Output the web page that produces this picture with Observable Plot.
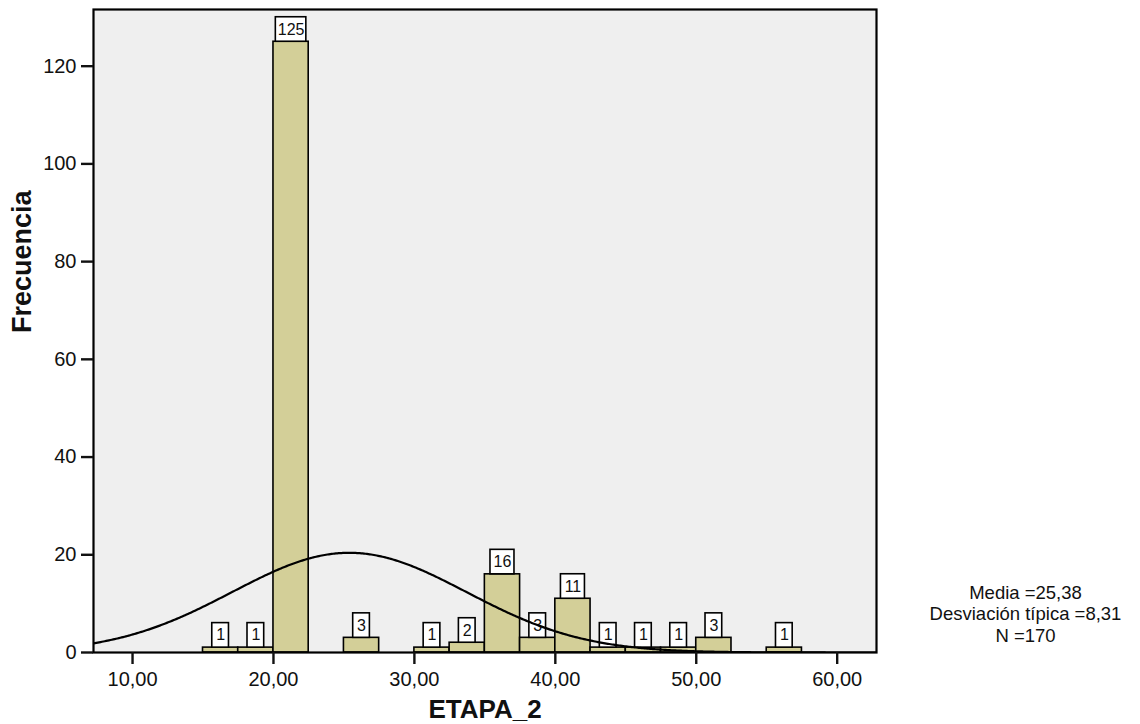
<!DOCTYPE html>
<html>
<head>
<meta charset="utf-8">
<script src="https://cdn.jsdelivr.net/npm/d3@7"></script>
<script src="https://cdn.jsdelivr.net/npm/@observablehq/plot@0.6"></script>
<style>
  html, body { margin: 0; padding: 0; background: #ffffff; }
  #chart svg { display: block; }
</style>
</head>
<body>
<div id="chart"></div>
<script>
// Histogram of ETAPA_2: lower edge of each 2.5-wide bin and its frequency
const binStart = [15, 17.5, 20, 25, 30, 32.5, 35, 37.5, 40, 42.5, 45, 47.5, 50, 55];
const counts   = [1, 1, 125, 3, 1, 2, 16, 3, 11, 1, 1, 1, 3, 1];
const binWidth = 2.5;

// Summary statistics shown beside the chart
const media = 25.38;
const desviacion = 8.31;
const nTotal = 170;

// Axis ticks
const xTicks = [10, 20, 30, 40, 50, 60];
const yTicks = [0, 20, 40, 60, 80, 100, 120];

const W = 1140, H = 724;
const margin = {top: 9, right: 264, bottom: 72, left: 93};
const xDomain = [7.23, 62.79];
const yDomain = [0, 131.6];

const bins = binStart.map((s, i) => ({x1: s, x2: s + binWidth, count: counts[i], digits: String(counts[i]).length}));

// Normal curve scaled to frequencies: N * bin width * density(mean, sd)
const pdf = x => Math.exp(-0.5 * ((x - media) / desviacion) ** 2) / (desviacion * Math.sqrt(2 * Math.PI));
const curve = d3.range(xDomain[0], xDomain[1] + 0.05, 0.1).map(x => ({x, y: nTotal * binWidth * pdf(x)}));

// Pixel width of one bin, used to size the value boxes
const binPx = binWidth * (W - margin.left - margin.right) / (xDomain[1] - xDomain[0]);
const boxW = {1: 16.7, 2: 24, 3: 30.5};

const fmtComma = d => d.toFixed(2).replace(".", ",");
const fontFamily = "'Liberation Sans', Arial, sans-serif";

const labelBoxes = [1, 2, 3].map(n => Plot.rect(bins.filter(b => b.digits === n), {
  x1: "x1", x2: "x2", y1: "count", y2: "count",
  insetLeft: (binPx - boxW[n]) / 2, insetRight: (binPx - boxW[n]) / 2,
  insetTop: -24.5, insetBottom: 0,
  fill: "white", stroke: "black", strokeWidth: 1.6
}));

const statsText = `Media =${media.toFixed(2).replace(".", ",")}\nDesviación típica =${desviacion.toFixed(2).replace(".", ",")}\nN =${nTotal}`;

const chart = Plot.plot({
  width: W,
  height: H,
  marginTop: margin.top,
  marginRight: margin.right,
  marginBottom: margin.bottom,
  marginLeft: margin.left,
  style: {fontFamily, fontSize: "20px", color: "#111", background: "white"},
  x: {domain: xDomain},
  y: {domain: yDomain},
  marks: [
    Plot.frame({fill: "#efefef"}),
    Plot.rect(bins, {x1: "x1", x2: "x2", y1: 0, y2: "count", fill: "#d3cf98", stroke: "black", strokeWidth: 1.6}),
    ...labelBoxes,
    Plot.text(bins, {
      x: d => d.x1 + binWidth / 2, y: "count", text: d => String(d.count),
      dy: -12.3, lineAnchor: "middle", fontSize: 16, fill: "#111"
    }),
    Plot.line(curve, {x: "x", y: "y", stroke: "black", strokeWidth: 2.2, clip: true}),
    Plot.frame({stroke: "black", strokeWidth: 2.2}),
    Plot.axisX({ticks: xTicks, tickFormat: fmtComma, tickSize: 12, tickPadding: 7, strokeWidth: 2.4, fontSize: 20, label: null}),
    Plot.axisY({ticks: yTicks, tickFormat: d => String(d), tickSize: 12, tickPadding: 5, strokeWidth: 2.4, fontSize: 20, label: null}),
    Plot.text(["ETAPA_2"], {frameAnchor: "bottom", dy: 57, lineAnchor: "middle", fontSize: 26, fontWeight: "bold", fill: "#111"}),
    Plot.text(["Frecuencia"], {frameAnchor: "left", dx: -71, dy: 2, rotate: -90, lineAnchor: "middle", fontSize: 27, fontWeight: "bold", fill: "#111"}),
    Plot.text([statsText], {frameAnchor: "right", dx: 149, dy: 282.5, textAnchor: "middle", lineAnchor: "middle", lineHeight: 1.15, fontSize: 18.5, fill: "#111"})
  ]
});

document.getElementById("chart").appendChild(chart);
</script>
</body>
</html>
